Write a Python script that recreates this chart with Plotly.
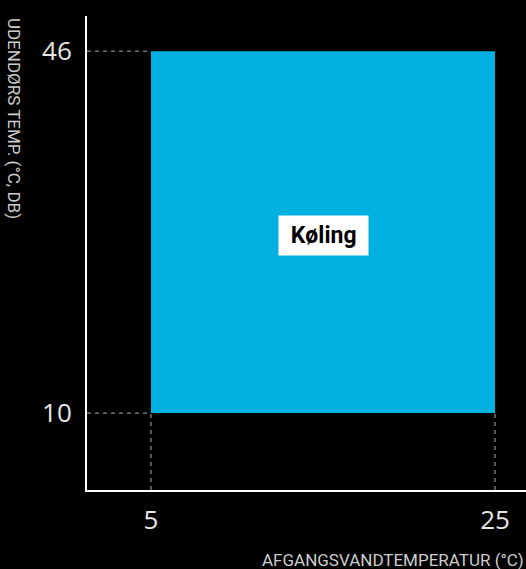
import plotly.graph_objects as go

# Data
x_range_vals = [5, 25]        # Afgangsvandtemperatur (°C)
y_range_vals = [10, 46]       # Udendørs temp. (°C, DB)
zone_label = "Køling"
x_ticks = [5, 25]
y_ticks = [10, 46]
x_title = "AFGANGSVANDTEMPERATUR (°C)"
y_title = "UDENDØRS TEMP. (°C, DB)"

x0, x1 = x_range_vals
y0, y1 = y_range_vals
XMIN, XMAX = 1.28, 26.8
YMIN, YMAX = 2.35, 49.5

fig = go.Figure()

# dashed guide lines
dash_style = dict(color="#aaaaaa", width=1, dash="4px,4px")
fig.add_trace(go.Scatter(x=[XMIN, x0], y=[y1, y1], mode="lines", line=dash_style, hoverinfo="skip"))
fig.add_trace(go.Scatter(x=[XMIN, x0], y=[y0, y0], mode="lines", line=dash_style, hoverinfo="skip"))
fig.add_trace(go.Scatter(x=[x0, x0], y=[YMIN, y0], mode="lines", line=dash_style, hoverinfo="skip"))
fig.add_trace(go.Scatter(x=[x1, x1], y=[YMIN, y0], mode="lines", line=dash_style, hoverinfo="skip"))

# operating zone
fig.add_trace(go.Scatter(
    x=[x0, x1, x1, x0, x0], y=[y0, y0, y1, y1, y0],
    mode="lines", fill="toself", fillcolor="#00b0e0",
    line=dict(color="#00b0e0", width=0), hoverinfo="skip"))

fig.add_annotation(
    x=(x0 + x1) / 2, y=(y0 + y1) / 2, text="&nbsp;<b>" + zone_label + "</b>&nbsp;",
    showarrow=False, bgcolor="white", borderpad=6, yshift=-3,
    font=dict(family="Roboto", size=23, color="black"))

fig.add_annotation(
    xref="paper", yref="paper", x=1.0, y=-0.122, xanchor="right", yanchor="top",
    text=x_title, showarrow=False,
    font=dict(family="Roboto", size=17, color="#cccccc"))
fig.add_annotation(
    xref="paper", yref="paper", x=-0.165, y=1.0, xanchor="center", yanchor="top",
    text=y_title, showarrow=False, textangle=90,
    font=dict(family="Roboto", size=17, color="#cccccc"))

fig.update_xaxes(range=[XMIN, XMAX], tickvals=x_ticks, showgrid=False, zeroline=False,
                 showline=True, linecolor="white", linewidth=2, ticks="",
                 ticklabelstandoff=6,
                 tickfont=dict(family="Open Sans", size=26, color="#e6e6e6"))
fig.update_yaxes(range=[YMIN, YMAX], tickvals=y_ticks, showgrid=False, zeroline=False,
                 showline=True, linecolor="white", linewidth=2, ticks="",
                 ticklabelstandoff=8,
                 tickfont=dict(family="Open Sans", size=26, color="#e6e6e6"))

fig.update_layout(
    width=526, height=569, showlegend=False,
    paper_bgcolor="black", plot_bgcolor="black",
    margin=dict(l=87, r=0, t=16, b=79))

fig.write_html("out.html", config={"displayModeBar": False},
               post_script="document.body.style.margin='0';document.body.style.background='black';")
